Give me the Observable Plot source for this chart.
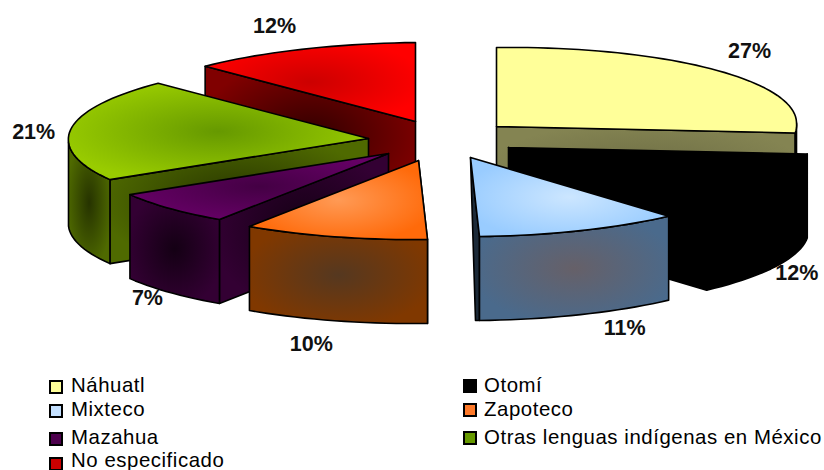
<!DOCTYPE html>
<html>
<head>
<meta charset="utf-8">
<script src="https://cdn.jsdelivr.net/npm/d3@7"></script>
<script src="https://cdn.jsdelivr.net/npm/@observablehq/plot@0.6"></script>
<style>
  html,body{margin:0;padding:0;background:#fff;overflow:hidden}
  #chart{position:relative;width:824px;height:470px;overflow:hidden;font-family:"Liberation Sans",Arial,sans-serif}
  #chart svg{position:absolute;left:0;top:0;overflow:visible}
  .lg{position:absolute;font-size:20.4px;line-height:24px;letter-spacing:.55px;color:#000;white-space:nowrap}
  .sw{position:absolute;width:10px;height:10px;border:2px solid #000;box-sizing:content-box}
</style>
</head>
<body>
<div id="chart"></div>
<script>
// Data
const languages = ["Náhuatl","Otomí","Mixteco","Zapoteco","Mazahua","Otras lenguas indígenas en México","No especificado"];
const shares = [27,12,11,10,7,21,12];

// Pie layout (exploded 3D pie): where each wedge's tip is pulled to, and label nudges
const tipX = [496,508,470,418,388,368,415];
const tipY = [126,147,157,160,153,138,121];
const labelDX = [28,21,44,-23,-22,-37,-27];
const labelDY = [-21,91,97,107,90,3,-23];
const RX = 300, RY = 79, DEPTH = 84;
const drawOrder = [6,5,4,3,0,1,2];

// Colours: [top edge, top centre, side edge, side centre]
const palette = [
  ["#FFFF99","#FFFF99","#848452","#6c6c44"],
  ["#000000","#000000","#000000","#000000"],
  ["#99CCFF","#CCE6FF","#4A6A8C","#666068"],
  ["#FF6A0A","#FF9A55","#803800","#553820"],
  ["#660066","#440044","#330033","#140014"],
  ["#99CC00","#669900","#4F6A00","#263300"],
  ["#FF0000","#CC0000","#800000","#300000"]
];
const swatchFill = ["#FFFF99","#000000","#C4E0FF","#FF7A2A","#4D004D","#669900","#CC0000"];
const legendLeft = [0,1,0,1,0,1,0];
const legendRow = [385,385,409,409,437,437,460];
const swatchRow = [386,385,410,409,438,437,463];

const rad = d => d * Math.PI / 180;
const pointAt = (i, deg, drop = 0) => {
  const s = Math.sin(rad(deg)), c = Math.cos(rad(deg));
  return {
    x: tipX[i] + RX * s + 9 * Math.max(0, -c) - 10 * Math.max(0, c) * Math.max(0, -s),
    y: tipY[i] - RY * c - 3.5 * s + drop
  };
};
const arc = (i, a0, a1, drop = 0) => {
  const n = Math.max(2, Math.ceil(Math.abs(a1 - a0) / 2));
  return d3.range(n + 1).map(k => pointAt(i, a0 + (a1 - a0) * k / n, drop));
};

let cum = 0;
const slices = shares.map((v, i) => {
  const a0 = cum * 3.6; cum += v; const a1 = cum * 3.6;
  return {i, a0, a1, mid: (a0 + a1) / 2};
});

const tip = i => ({x: tipX[i], y: tipY[i]});
const marks = [];
const face = (pts, fill) => marks.push(Plot.line([...pts, pts[0]], {
  x: "x", y: "y", fill, stroke: "#000", strokeWidth: 1.6, curve: "linear"
}));

for (const o of drawOrder) {
  const {i, a0, a1} = slices[o];
  const side = `url(#side${i})`, top = `url(#top${i})`;
  const sliver = i === 2; // the Mixteco cut edge runs to the base of the wedge
  const radial = a => {
    const e = pointAt(i, a), b = pointAt(i, a, DEPTH), t = tip(i);
    const under = sliver ? {x: b.x - 4, y: b.y} : {x: t.x, y: t.y + DEPTH};
    return [t, e, b, under];
  };
  if (a1 <= 180) face(radial(a1), sliver ? "#1c2a38" : side);
  if (a0 >= 180) face(radial(a0), side);
  const s0 = Math.max(a0, 90), s1 = Math.min(a1, 270);
  if (s1 > s0) face([...arc(i, s0, s1), ...arc(i, s1, s0, DEPTH)], side);
  face([tip(i), ...arc(i, a0, a1)], top);
}

const labels = slices.map(({i, mid}) => {
  const p = pointAt(i, mid);
  return {x: p.x + labelDX[i], y: p.y + labelDY[i], t: shares[i] + "%"};
});
marks.push(Plot.text(labels, {
  x: "x", y: "y", text: "t", fontSize: 21.5, fontWeight: "bold",
  fontFamily: "Liberation Sans", fill: "#111", textAnchor: "middle"
}));

const svg = Plot.plot({
  width: 824, height: 365,
  margin: 0, marginTop: 0, marginRight: 0, marginBottom: 0, marginLeft: 0,
  x: {domain: [0, 824], range: [0, 824], axis: null},
  y: {domain: [0, 365], range: [0, 365], axis: null},
  style: {background: "transparent"},
  marks
});

const defs = d3.select(svg).insert("defs", ":first-child");
const grad = (id, edge, centre) => {
  const g = defs.append("radialGradient").attr("id", id)
    .attr("cx", "50%").attr("cy", "50%").attr("r", "55%");
  g.append("stop").attr("offset", "0%").attr("stop-color", centre);
  g.append("stop").attr("offset", "100%").attr("stop-color", edge);
};
palette.forEach((p, i) => { grad(`top${i}`, p[0], p[1]); grad(`side${i}`, p[2], p[3]); });

const root = document.getElementById("chart");
root.appendChild(svg);

languages.forEach((name, i) => {
  const col = legendLeft[i];
  const sw = document.createElement("div");
  sw.className = "sw";
  sw.style.left = (col ? 463 : 49) + "px";
  sw.style.top = (swatchRow[i] - 6) + "px";
  sw.style.background = swatchFill[i];
  root.appendChild(sw);
  const t = document.createElement("div");
  t.className = "lg";
  t.textContent = name;
  t.style.left = (col ? 484 : 71) + "px";
  t.style.top = (legendRow[i] - 12) + "px";
  root.appendChild(t);
});
</script>
</body>
</html>
